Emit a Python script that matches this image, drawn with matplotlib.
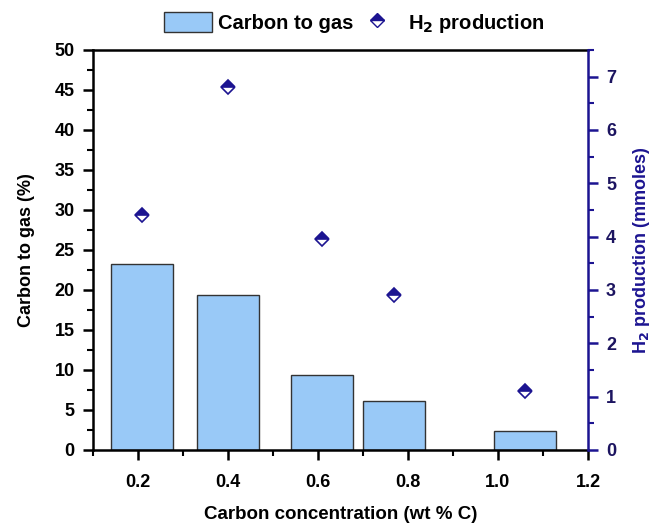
import matplotlib.pyplot as plt
from matplotlib.ticker import MultipleLocator
from matplotlib.lines import Line2D
from matplotlib.patches import Patch

plt.rcParams['font.family'] = ['Liberation Sans', 'DejaVu Sans']
plt.rcParams['font.weight'] = 'bold'
plt.rcParams['mathtext.default'] = 'bf'

# data
carbon_conc = [0.21, 0.40, 0.61, 0.77, 1.06]
carbon_to_gas = [23.2, 19.4, 9.4, 6.1, 2.4]
h2_production = [4.4, 6.8, 3.95, 2.9, 1.1]

navy = '#1c1491'
bar_color = '#99c9f7'

fig = plt.figure(figsize=(6.54, 5.25), dpi=100)
ax = fig.add_axes([0.142, 0.143, 0.757, 0.762])

ax.bar(carbon_conc, carbon_to_gas, width=0.138, color=bar_color,
       edgecolor='#333333', linewidth=1.0, zorder=2)
ax.set_xlim(0.1, 1.2)
ax.set_ylim(0, 50)
ax.xaxis.set_major_locator(MultipleLocator(0.2))
ax.xaxis.set_minor_locator(MultipleLocator(0.1))
ax.yaxis.set_major_locator(MultipleLocator(5))
ax.yaxis.set_minor_locator(MultipleLocator(2.5))
ax.set_xticks([0.2, 0.4, 0.6, 0.8, 1.0, 1.2])
ax.set_xticklabels(['0.2', '0.4', '0.6', '0.8', '1.0', '1.2'])
ax.tick_params(axis='both', which='major', direction='out', length=7, width=1.8,
               labelsize=13, pad=6)
ax.tick_params(axis='both', which='minor', direction='out', length=4, width=1.5)
ax.tick_params(axis='x', pad=10)
ax.set_xlabel('Carbon concentration (wt % C)', fontsize=13.5, fontweight='bold', labelpad=11)
ax.set_ylabel('Carbon to gas (%)', fontsize=13, fontweight='bold', labelpad=14)
for s in ['left', 'bottom', 'top']:
    ax.spines[s].set_linewidth(1.8)
ax.spines['right'].set_visible(False)

ax2 = ax.twinx()
ax2.plot(carbon_conc, h2_production, linestyle='none', marker='D', markersize=7,
         fillstyle='top', color=navy, markerfacecoloralt='white',
         markeredgecolor=navy, markeredgewidth=1.2, zorder=3)
ax2.set_ylim(0, 7.5)
ax2.yaxis.set_major_locator(MultipleLocator(1))
ax2.yaxis.set_minor_locator(MultipleLocator(0.5))
ax2.tick_params(axis='y', which='major', direction='out', length=7, width=1.8,
                labelsize=13, colors=navy, pad=6)
ax2.tick_params(axis='y', which='minor', direction='out', length=4, width=1.5, colors=navy)
for lab in ax2.get_yticklabels():
    lab.set_color('#1c1460')
ax2.set_ylabel('H$_2$ production (mmoles)', fontsize=13, fontweight='bold',
               color=navy, labelpad=11)
ax2.spines['right'].set_color(navy)
ax2.spines['right'].set_linewidth(1.8)
for s in ['left', 'bottom', 'top']:
    ax2.spines[s].set_visible(False)

handles = [
    Patch(facecolor=bar_color, edgecolor='#333333', linewidth=1.0),
    Line2D([], [], linestyle='none', marker='D', markersize=7, fillstyle='top',
           color=navy, markerfacecoloralt='white', markeredgecolor=navy),
]
fig.legend(handles, ['Carbon to gas', 'H$_2$ production'], loc='upper center',
           bbox_to_anchor=(0.541, 1.012), ncol=2, frameon=False,
           handlelength=2.4, handleheight=1.2, columnspacing=0.0, handletextpad=0.3,
           prop={'weight': 'bold', 'size': 14.5})

plt.savefig('out.png', dpi=100)
